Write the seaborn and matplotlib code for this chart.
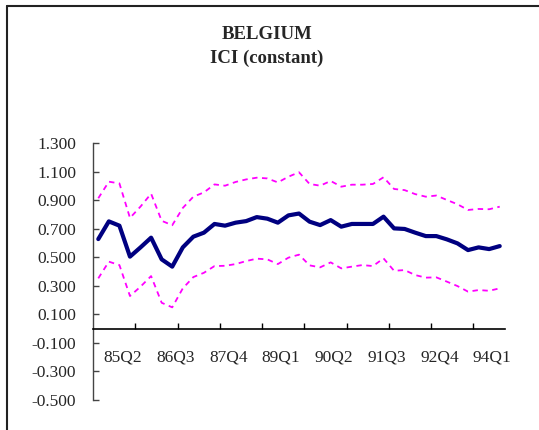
import numpy as np
import pandas as pd
import matplotlib.pyplot as plt
import seaborn as sns
from matplotlib.lines import Line2D

# quarters 84Q4 .. 94Q2
quarters = [f"{y % 100}Q{q}" for y in range(1984, 1995) for q in range(1, 5)][3:42]

ici = [0.627, 0.751, 0.721, 0.504, 0.569, 0.637, 0.485, 0.434, 0.569, 0.644,
       0.672, 0.733, 0.721, 0.742, 0.753, 0.781, 0.770, 0.742, 0.793, 0.806,
       0.749, 0.725, 0.760, 0.714, 0.733, 0.733, 0.733, 0.784, 0.702, 0.698,
       0.672, 0.648, 0.648, 0.625, 0.597, 0.550, 0.569, 0.557, 0.578]
upper = [0.913, 1.029, 1.017, 0.775, 0.855, 0.945, 0.755, 0.724, 0.845, 0.924,
         0.954, 1.010, 1.001, 1.027, 1.045, 1.057, 1.052, 1.024, 1.064, 1.095,
         1.013, 1.001, 1.034, 0.994, 1.008, 1.008, 1.013, 1.060, 0.978, 0.970,
         0.942, 0.924, 0.932, 0.901, 0.871, 0.831, 0.838, 0.836, 0.854]
lower = [0.352, 0.469, 0.445, 0.228, 0.294, 0.368, 0.181, 0.149, 0.282, 0.361,
         0.391, 0.438, 0.440, 0.452, 0.473, 0.490, 0.485, 0.452, 0.497, 0.518,
         0.443, 0.429, 0.464, 0.422, 0.434, 0.445, 0.438, 0.492, 0.405, 0.410,
         0.375, 0.357, 0.359, 0.329, 0.298, 0.259, 0.270, 0.265, 0.282]

tick_labels = ['85Q2', '86Q3', '87Q4', '89Q1', '90Q2', '91Q3', '92Q4', '94Q1']
y_ticks = [1.3, 1.1, 0.9, 0.7, 0.5, 0.3, 0.1, -0.1, -0.3, -0.5]

df = pd.DataFrame({'quarter': quarters, 'ici': ici, 'upper': upper, 'lower': lower})
df['pos'] = np.arange(len(df))

sns.set_style('white')
plt.rcParams['font.family'] = ['Liberation Serif', 'DejaVu Serif']

fig = plt.figure(figsize=(5.39, 4.30), dpi=100)
ax = fig.add_axes([93 / 539, 30 / 430, 412 / 539, 257 / 430])

band = dict(color='#FF00FF', linewidth=1.3, dashes=(3, 2.5))
sns.lineplot(data=df, x='pos', y='upper', ax=ax, **band)
sns.lineplot(data=df, x='pos', y='lower', ax=ax, **band)
sns.lineplot(data=df, x='pos', y='ici', ax=ax, color='#000080', linewidth=3)

ax.set_xlim(-0.5, len(df) - 0.5)
ax.set_ylim(-0.5, 1.3)
ax.set_xlabel('')
ax.set_ylabel('')

for s in ['top', 'right']:
    ax.spines[s].set_visible(False)
ax.spines['bottom'].set_position(('data', 0))
ax.spines['bottom'].set_color('black')
ax.spines['bottom'].set_linewidth(1.2)
ax.spines['left'].set_color('#444444')
ax.spines['left'].set_linewidth(1.0)

ax.set_yticks(y_ticks)
ax.set_yticklabels([f"{v:.3f}" for v in y_ticks], fontsize=12.5)
ax.tick_params(axis='y', direction='in', length=4, width=1, color='#444444', pad=12, left=True)

# tick marks every 4 quarters, labels every 5 quarters
ax.set_xticks(np.arange(3.5, len(df) - 1, 4))
ax.set_xticklabels([])
ax.tick_params(axis='x', which='major', direction='in', length=4, width=1, color='black', bottom=True)
lab_pos = [quarters.index(t) + 0.3 for t in tick_labels]
ax.set_xticks(lab_pos, minor=True)
ax.set_xticklabels(tick_labels, minor=True, fontsize=12.5)
ax.tick_params(axis='x', which='minor', length=0, pad=15)

fig.text(0.495, 1 - 39 / 430, 'BELGIUM', ha='center', va='baseline',
         fontsize=13.5, fontweight='bold')
fig.text(0.495, 1 - 62.5 / 430, 'ICI (constant)', ha='center', va='baseline',
         fontsize=13.5, fontweight='bold')

# partial chart border (left and top)
fig.add_artist(Line2D([7 / 539, 7 / 539], [0, 1 - 6 / 430], transform=fig.transFigure,
                      color='#222222', linewidth=1.5))
fig.add_artist(Line2D([7 / 539, 1], [1 - 6 / 430, 1 - 6 / 430], transform=fig.transFigure,
                      color='#222222', linewidth=1.5))

fig.savefig('out.png', dpi=100)
